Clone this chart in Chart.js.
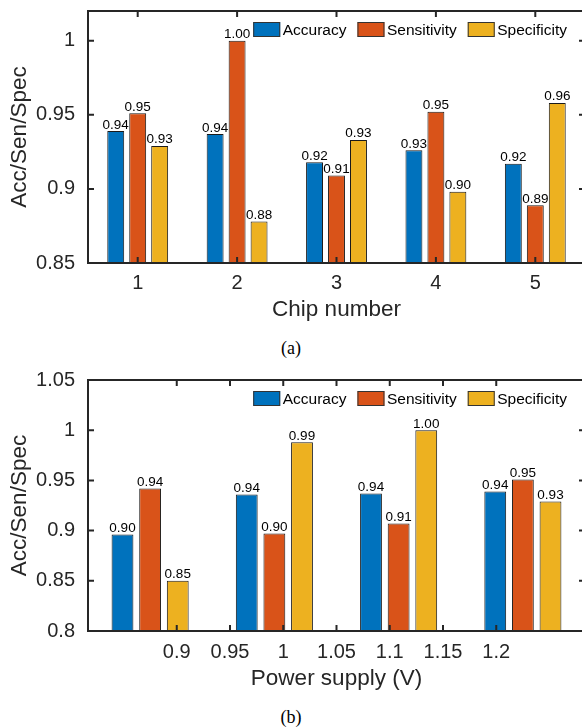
<!DOCTYPE html>
<html>
<head>
<meta charset="utf-8">
<script src="https://cdn.jsdelivr.net/npm/chart.js@4.4.1/dist/chart.umd.min.js"></script>
<style>
  html, body { margin: 0; padding: 0; background: #fff; overflow: hidden; width: 582px; height: 727px; }
  .wrap { position: absolute; left: 0; width: 600px; }
  .cap { position: absolute; left: 0; width: 582px; text-align: center; font-family: "Liberation Serif", serif; font-size: 18px; line-height: 22px; color: #000; }
</style>
</head>
<body>
<div class="wrap" style="top:0;height:330px"><canvas id="chipChart" width="600" height="330"></canvas></div>
<div class="cap" style="top:337px">(a)</div>
<div class="wrap" style="top:360px;height:340px"><canvas id="powerChart" width="600" height="340"></canvas></div>
<div class="cap" style="top:706px">(b)</div>

<script>
// chip-to-chip results
const chipLabels = ['1', '2', '3', '4', '5'];
const chipAccuracy = [0.939, 0.937, 0.918, 0.926, 0.917];
const chipSensitivity = [0.951, 1.000, 0.909, 0.952, 0.889];
const chipSpecificity = [0.929, 0.878, 0.933, 0.898, 0.958];
const chipYTicks = [0.85, 0.9, 0.95, 1];

// power supply sweep
const supplyLabels = [0.9, 1.0, 1.1, 1.2];
const supplyAccuracy = [0.896, 0.936, 0.937, 0.939];
const supplySensitivity = [0.942, 0.897, 0.907, 0.951];
const supplySpecificity = [0.850, 0.988, 1.000, 0.929];
const supplyXTicks = [0.9, 0.95, 1, 1.05, 1.1, 1.15, 1.2];
const supplyYTicks = [0.8, 0.85, 0.9, 0.95, 1, 1.05];

const seriesNames = ['Accuracy', 'Sensitivity', 'Specificity'];
const colors = ['#0072BD', '#D95319', '#EDB120'];

const FONT = '"Liberation Sans", Arial, sans-serif';
const AXIS = '#262626';
const fmt = v => String(Math.round(v * 100) / 100);

// box around the axes with inward ticks on all four sides
const frame = {
  id: 'frame',
  afterDatasetsDraw(chart, args, opts) {
    const {ctx, chartArea: a} = chart;
    const xs = chart.scales[opts.xScale];
    const ys = chart.scales.y;
    ctx.save();
    ctx.strokeStyle = AXIS;
    ctx.lineWidth = 2;
    ctx.beginPath();
    xs.ticks.forEach((t, i) => {
      const px = xs.getPixelForTick(i);
      ctx.moveTo(px, a.bottom); ctx.lineTo(px, a.bottom - 6);
      ctx.moveTo(px, a.top); ctx.lineTo(px, a.top + 6);
    });
    ys.ticks.forEach((t, i) => {
      const py = ys.getPixelForTick(i);
      ctx.moveTo(a.left, py); ctx.lineTo(a.left + 6, py);
      ctx.moveTo(a.right, py); ctx.lineTo(a.right - 6, py);
    });
    ctx.stroke();
    ctx.strokeRect(a.left, a.top, a.right - a.left, a.bottom - a.top);
    ctx.restore();
  }
};

// numbers above each bar
const barValues = {
  id: 'barValues',
  afterDatasetsDraw(chart) {
    const ctx = chart.ctx;
    ctx.save();
    ctx.font = '13.5px ' + FONT;
    ctx.fillStyle = '#000';
    ctx.textAlign = 'center';
    ctx.textBaseline = 'alphabetic';
    chart.data.datasets.forEach((ds, di) => {
      chart.getDatasetMeta(di).data.forEach((bar, i) => {
        ctx.fillText(ds.data[i].toFixed(2), bar.x, bar.y - 2.5);
      });
    });
    ctx.restore();
  }
};

// legend sitting inside the top right of the axes
const innerLegend = {
  id: 'innerLegend',
  afterDraw(chart) {
    const {ctx, chartArea: a} = chart;
    ctx.save();
    ctx.font = '15.5px ' + FONT;
    const boxW = 27, boxH = 15, gap = 2.5, space = 11;
    const items = chart.data.datasets.map(ds => ({
      text: ds.label, fill: ds.backgroundColor, w: ctx.measureText(ds.label).width
    }));
    const total = items.reduce((s, it) => s + boxW + gap + it.w, 0) + space * (items.length - 1);
    let x = a.right - 18 - total;
    const cy = a.top + 18.5;
    ctx.textBaseline = 'middle';
    ctx.textAlign = 'left';
    items.forEach(it => {
      ctx.fillStyle = it.fill;
      ctx.fillRect(x, cy - boxH / 2, boxW, boxH);
      ctx.strokeStyle = '#333';
      ctx.lineWidth = 1;
      ctx.strokeRect(x + 0.5, cy - boxH / 2 + 0.5, boxW - 1, boxH - 1);
      ctx.fillStyle = '#000';
      ctx.fillText(it.text, x + boxW + gap, cy + 1);
      x += boxW + gap + it.w + space;
    });
    ctx.restore();
  }
};

function makeDatasets(series, catPct, barPct) {
  return series.map((data, i) => ({
    label: seriesNames[i],
    data: data,
    backgroundColor: colors[i],
    borderColor: '#1a1a1a',
    borderWidth: 1,
    borderSkipped: false,
    categoryPercentage: catPct,
    barPercentage: barPct
  }));
}

function yAxis(min, max, ticks, width) {
  return {
    min: min, max: max,
    grid: {display: false, drawTicks: false},
    border: {display: false},
    ticks: {font: {family: FONT, size: 20}, color: AXIS, padding: 13, callback: v => fmt(v)},
    afterBuildTicks: s => { s.ticks = ticks.map(v => ({value: v})); },
    afterFit: s => { s.width = width; s.paddingTop = 0; s.paddingBottom = 0; },
    title: {display: true, text: 'Acc/Sen/Spec', color: AXIS, font: {family: FONT, size: 22.5}, padding: {top: 6.5, bottom: 0}}
  };
}

new Chart(document.getElementById('chipChart'), {
  type: 'bar',
  data: {
    labels: chipLabels,
    datasets: makeDatasets([chipAccuracy, chipSensitivity, chipSpecificity], 0.663, 0.77)
  },
  options: {
    responsive: false,
    animation: false,
    devicePixelRatio: 1,
    layout: {padding: {top: 11, right: 15, left: 0, bottom: 0}},
    plugins: {legend: {display: false}, tooltip: {enabled: false}, frame: {xScale: 'x'}},
    scales: {
      x: {
        grid: {display: false, drawTicks: false},
        border: {display: false},
        ticks: {font: {family: FONT, size: 20}, color: AXIS, padding: 8},
        afterFit: s => { s.height = 67; s.paddingLeft = 0; s.paddingRight = 0; },
        title: {display: true, text: 'Chip number', color: AXIS, font: {family: FONT, size: 22.5}, padding: {top: 0, bottom: 6.5}}
      },
      y: yAxis(0.85, 1.02, chipYTicks, 88)
    }
  },
  plugins: [frame, barValues, innerLegend]
});

new Chart(document.getElementById('powerChart'), {
  type: 'bar',
  data: {
    labels: supplyLabels,
    datasets: makeDatasets([supplyAccuracy, supplySensitivity, supplySpecificity], 0.667, 0.79)
  },
  options: {
    responsive: false,
    animation: false,
    devicePixelRatio: 1,
    layout: {padding: {top: 20, right: 15, left: 0, bottom: 0}},
    plugins: {legend: {display: false}, tooltip: {enabled: false}, frame: {xScale: 'x2'}},
    scales: {
      x: {display: false},
      x2: {
        type: 'linear',
        position: 'bottom',
        min: 0.85, max: 1.25,
        grid: {display: false, drawTicks: false},
        border: {display: false},
        ticks: {font: {family: FONT, size: 20}, color: AXIS, padding: 9, callback: v => fmt(v)},
        afterBuildTicks: s => { s.ticks = supplyXTicks.map(v => ({value: v})); },
        afterFit: s => { s.height = 69; s.paddingLeft = 0; s.paddingRight = 0; },
        title: {display: true, text: 'Power supply (V)', color: AXIS, font: {family: FONT, size: 22.5}, padding: {top: 0, bottom: 7.5}}
      },
      y: yAxis(0.8, 1.05, supplyYTicks, 88)
    }
  },
  plugins: [frame, barValues, innerLegend]
});
</script>
</body>
</html>
